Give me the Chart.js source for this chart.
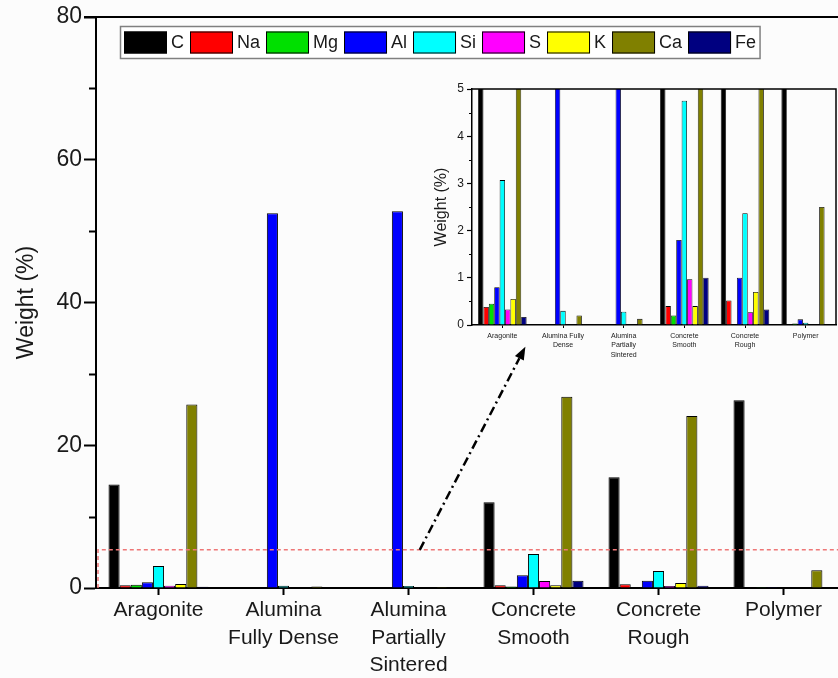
<!DOCTYPE html>
<html>
<head>
<meta charset="utf-8">
<title>Elemental composition by surface</title>
<script src="https://cdn.jsdelivr.net/npm/chart.js@4.4.1/dist/chart.umd.min.js"></script>
<style>
  html, body { margin: 0; padding: 0; background: #fcfcfc; overflow: hidden; width: 838px; height: 678px; }
  #main { position: absolute; left: 0; top: 0; }
  #inset { position: absolute; left: 415px; top: 72px; }
</style>
</head>
<body>
<canvas id="main" width="850" height="678"></canvas>
<canvas id="inset" width="425" height="300"></canvas>
<script>
// Sample surfaces (category axis labels)
const samples = [["Aragonite"], ["Alumina", "Fully Dense"], ["Alumina", "Partially", "Sintered"], ["Concrete", "Smooth"], ["Concrete", "Rough"], ["Polymer"]];
const insetSamples = [["Aragonite"], ["Alumina Fully", "Dense"], ["Alumina", "Partially", "Sintered"], ["Concrete", "Smooth"], ["Concrete", "Rough"], ["Polymer"]];

// Element names (legend)
const elements = ["C", "Na", "Mg", "Al", "Si", "S", "K", "Ca", "Fe"];

// Weight (%) of each element per sample
const C  = [14.5, 0, 0, 12.0, 15.5, 26.3];
const Na = [0.38, 0, 0, 0.40, 0.52, 0];
const Mg = [0.45, 0, 0, 0.20, 0, 0.03];
const Al = [0.80, 52.5, 52.8, 1.80, 1.00, 0.12];
const Si = [3.07, 0.30, 0.28, 4.75, 2.37, 0.05];
const S  = [0.33, 0, 0, 0.97, 0.27, 0];
const K  = [0.55, 0, 0, 0.40, 0.70, 0];
const Ca = [25.7, 0.20, 0.13, 26.8, 24.1, 2.50];
const Fe = [0.17, 0, 0, 1.00, 0.33, 0];

// Axis ticks
const mainTicks = [0, 20, 40, 60, 80];
const mainMinorTicks = [10, 30, 50, 70];
const insetTicks = [0, 1, 2, 3, 4, 5];
const insetMinorTicks = [0.5, 1.5, 2.5, 3.5, 4.5];

// Upper limit of the magnified region shown in the inset
const zoomLimit = 5.35;

const series = [C, Na, Mg, Al, Si, S, K, Ca, Fe];
const colors = ["#000000", "#ff0000", "#00e000", "#0000ff", "#00ffff", "#ff00ff", "#ffff00", "#808000", "#000080"];
const FONT = '"Liberation Sans", Arial, Helvetica, sans-serif';
const INK = '#1a1a1a';

function makeDatasets(borderWidth) {
  return elements.map((name, i) => ({
    label: name,
    data: series[i],
    backgroundColor: colors[i],
    borderColor: '#000',
    borderWidth: borderWidth,
    borderSkipped: 'start',
    barPercentage: 1.0,
    categoryPercentage: 0.8
  }));
}

// Minor tick marks on the value axis
function minorTicksPlugin(values, len, width) {
  return {
    id: 'minorTicks',
    afterDraw(chart) {
      const { ctx, chartArea, scales: { y } } = chart;
      ctx.save();
      ctx.strokeStyle = '#000';
      ctx.lineWidth = width;
      values.forEach(v => {
        const py = Math.round(y.getPixelForValue(v)) + 0.5;
        ctx.beginPath();
        ctx.moveTo(chartArea.left - len, py);
        ctx.lineTo(chartArea.left, py);
        ctx.stroke();
      });
      ctx.restore();
    }
  };
}

// Top frame line of the main plot
const topFrame = {
  id: 'topFrame',
  afterDraw(chart) {
    const { ctx, chartArea } = chart;
    ctx.save();
    ctx.strokeStyle = '#000';
    ctx.lineWidth = 2;
    ctx.beginPath();
    ctx.moveTo(chartArea.left - 12, chartArea.top);
    ctx.lineTo(chartArea.right, chartArea.top);
    ctx.stroke();
    ctx.restore();
  }
};

// Legend drawn as a boxed row inside the plot area
const legendRow = {
  id: 'legendRow',
  afterDraw(chart) {
    const { ctx, chartArea } = chart;
    const sw = 43, sh = 22, boxH = 32;
    const left = chartArea.left + 24.5, top = chartArea.top + 9.5;
    ctx.save();
    ctx.font = '18px ' + FONT;
    let x = left + 3.5;
    const items = chart.data.datasets.map(ds => {
      const w = ctx.measureText(ds.label).width;
      const it = { x, label: ds.label, color: ds.backgroundColor, w };
      x += sw + 4 + w + 6;
      return it;
    });
    const right = x - 2;
    ctx.fillStyle = '#ffffff';
    ctx.fillRect(left, top, right - left, boxH);
    ctx.strokeStyle = '#808080';
    ctx.lineWidth = 1.5;
    ctx.strokeRect(left, top, right - left, boxH);
    items.forEach(it => {
      ctx.fillStyle = it.color;
      ctx.fillRect(it.x, top + 5, sw, sh);
      ctx.strokeStyle = '#000';
      ctx.lineWidth = 1;
      ctx.strokeRect(it.x + 0.5, top + 5.5, sw - 1, sh - 1);
      ctx.fillStyle = INK;
      ctx.textBaseline = 'middle';
      ctx.fillText(it.label, it.x + sw + 4, top + boxH / 2 + 1);
    });
    ctx.restore();
  }
};

// Dashed outline of the magnified region and the pointer to the inset
const zoomMarker = {
  id: 'zoomMarker',
  afterDatasetsDraw(chart) {
    const { ctx, chartArea, scales: { x, y } } = chart;
    const yLim = y.getPixelForValue(zoomLimit);
    ctx.save();
    ctx.strokeStyle = '#ee7777';
    ctx.lineWidth = 1.5;
    ctx.setLineDash([4, 3]);
    ctx.beginPath();
    ctx.moveTo(chartArea.left + 2, chartArea.bottom);
    ctx.lineTo(chartArea.left + 2, yLim);
    ctx.lineTo(chartArea.right, yLim);
    ctx.stroke();

    const x0 = x.getPixelForValue(2.09), y0 = yLim;
    const x1 = x.getPixelForValue(2.935), y1 = y.getPixelForValue(33.8);
    const ang = Math.atan2(y1 - y0, x1 - x0);
    const headLen = 13, headW = 5;
    const bx = x1 - headLen * Math.cos(ang), by = y1 - headLen * Math.sin(ang);
    ctx.strokeStyle = '#000';
    ctx.lineWidth = 2.5;
    ctx.setLineDash([9, 4, 2, 4]);
    ctx.beginPath();
    ctx.moveTo(x0, y0);
    ctx.lineTo(bx, by);
    ctx.stroke();
    ctx.setLineDash([]);
    ctx.fillStyle = '#000';
    ctx.beginPath();
    ctx.moveTo(x1, y1);
    ctx.lineTo(bx + headW * Math.sin(ang), by - headW * Math.cos(ang));
    ctx.lineTo(bx - headW * Math.sin(ang), by + headW * Math.cos(ang));
    ctx.closePath();
    ctx.fill();
    ctx.restore();
  }
};

// Frame around the inset plot
const insetFrame = {
  id: 'insetFrame',
  afterDraw(chart) {
    const { ctx, chartArea } = chart;
    ctx.save();
    ctx.strokeStyle = '#000';
    ctx.lineWidth = 1.5;
    ctx.beginPath();
    ctx.moveTo(chartArea.left, chartArea.top);
    ctx.lineTo(chartArea.right, chartArea.top);
    ctx.lineTo(chartArea.right, chartArea.bottom);
    ctx.stroke();
    ctx.restore();
  }
};

Chart.defaults.font.family = FONT;
Chart.defaults.color = INK;

new Chart(document.getElementById('main'), {
  type: 'bar',
  data: { labels: samples, datasets: makeDatasets(1) },
  options: {
    responsive: false,
    animation: false,
    layout: { padding: { top: 17, right: 4, left: 0, bottom: 0 } },
    plugins: { legend: { display: false }, tooltip: { enabled: false } },
    scales: {
      x: {
        grid: { display: true, drawOnChartArea: false, drawTicks: true, tickLength: 7, tickColor: '#000', tickWidth: 2, offset: false },
        border: { display: true, color: '#000', width: 2 },
        ticks: { font: { size: 21, lineHeight: 1.3 }, color: INK, padding: 2, maxRotation: 0, autoSkip: false },
        afterFit(s) { s.height = 90; }
      },
      y: {
        min: 0, max: 80,
        afterBuildTicks(s) { s.ticks = mainTicks.map(v => ({ value: v })); },
        grid: { display: true, drawOnChartArea: false, drawTicks: true, tickLength: 12, tickColor: '#000', tickWidth: 2 },
        border: { display: true, color: '#000', width: 2 },
        ticks: { font: { size: 23 }, color: INK, padding: 2 },
        title: { display: true, text: 'Weight (%)', font: { size: 23 }, color: INK, padding: { top: 13, bottom: 0 } },
        afterFit(s) { s.width = 96; }
      }
    }
  },
  plugins: [minorTicksPlugin(mainMinorTicks, 7, 2), topFrame, zoomMarker, legendRow]
});

new Chart(document.getElementById('inset'), {
  type: 'bar',
  data: { labels: insetSamples, datasets: makeDatasets(0.8) },
  options: {
    responsive: false,
    animation: false,
    layout: { padding: { top: 17, right: 4, left: 0, bottom: 0 } },
    plugins: { legend: { display: false }, tooltip: { enabled: false } },
    scales: {
      x: {
        grid: { display: true, drawOnChartArea: false, drawTicks: true, tickLength: 3, tickColor: '#000', tickWidth: 1, offset: false },
        border: { display: true, color: '#000', width: 1.5 },
        ticks: { font: { size: 7, lineHeight: 1.35 }, color: INK, padding: 3, maxRotation: 0, autoSkip: false },
        afterFit(s) { s.height = 47; }
      },
      y: {
        min: 0, max: 5,
        afterBuildTicks(s) { s.ticks = insetTicks.map(v => ({ value: v })); },
        grid: { display: true, drawOnChartArea: false, drawTicks: true, tickLength: 5, tickColor: '#000', tickWidth: 1.2 },
        border: { display: true, color: '#000', width: 1.5 },
        ticks: { font: { size: 12 }, color: INK, padding: 3 },
        title: { display: true, text: 'Weight (%)', font: { size: 16 }, color: INK, padding: { top: 17, bottom: 0 } },
        afterFit(s) { s.width = 57; }
      }
    }
  },
  plugins: [minorTicksPlugin(insetMinorTicks, 3, 1), insetFrame]
});
</script>
</body>
</html>
